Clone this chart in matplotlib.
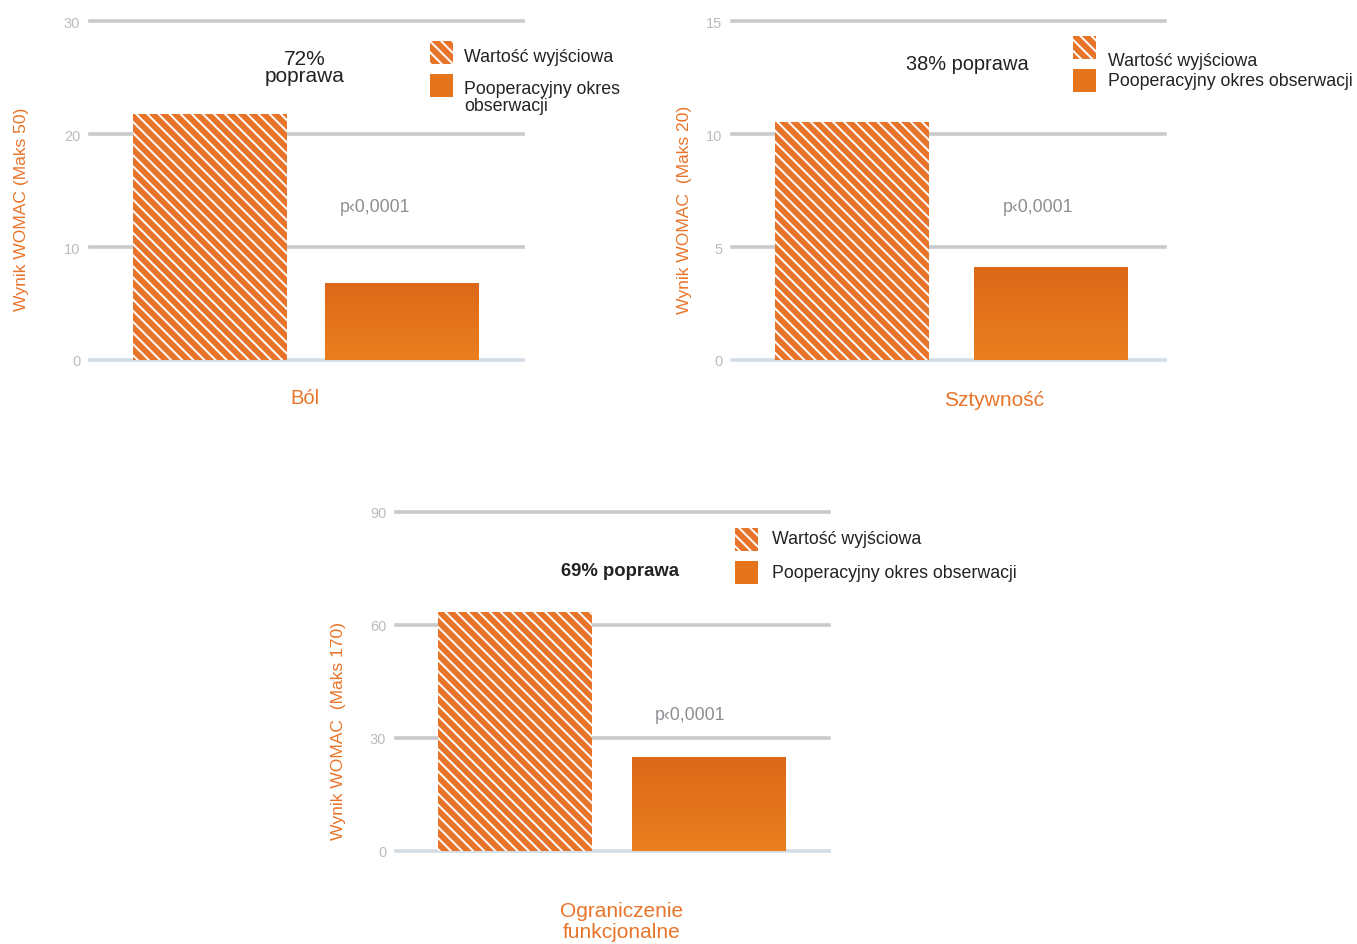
import matplotlib
matplotlib.use("Agg")
import matplotlib.pyplot as plt
import numpy as np
from matplotlib.patches import Rectangle
from matplotlib.colors import LinearSegmentedColormap

plt.rcParams['font.family'] = ['Liberation Sans', 'DejaVu Sans']
plt.rcParams['hatch.linewidth'] = 1.4

# ---------------- data ----------------
categories = ["Ból", "Sztywność", "Ograniczenie\nfunkcjonalne"]
baseline = [21.8, 10.55, 63.5]
followup = [6.8, 4.1, 25.0]
ymax = [30, 15, 90]
yticks = [[0, 10, 20, 30], [0, 5, 10, 15], [0, 30, 60, 90]]
ylabels = ["Wynik WOMAC (Maks 50)", "Wynik WOMAC  (Maks 20)", "Wynik WOMAC  (Maks 170)"]
improvement = ["72%\npoprawa", "38% poprawa", "69% poprawa"]
pvalue = ["p\u20390,0001", "p\u20390,0001", "p\u20390,0001"]
legend_labels = [["Wartość wyjściowa", "Pooperacyjny okres\nobserwacji"],
                 ["Wartość wyjściowa", "Pooperacyjny okres obserwacji"],
                 ["Wartość wyjściowa", "Pooperacyjny okres obserwacji"]]

ORANGE = "#e8742a"
GRID = "#c9cacc"
BASE = "#d3dde6"
TICK = "#b9bcc0"
W, H = 1357, 945

fig = plt.figure(figsize=(W / 100, H / 100), dpi=100)

def fx(x):
    return x / W

def fy(y):
    return 1 - y / H

# layout per panel (pixel coordinates)
panels = [
    dict(left=90, top=22, bottom=361, x0=120, unit=192.5, ylab=(22, 209), cat_xy=(305, 399),
         cat_fs=14.5, imp_xy=(305, 68), imp_bold=False, imp_fs=15, p_xy=(375, 208),
         leg_x=430, leg_y=[42, 75], leg_tx=464, leg_ty=[57, 98]),
    dict(left=732, top=22, bottom=361, x0=120, unit=199.5, ylab=(685, 210), cat_xy=(994, 401),
         cat_fs=15, imp_xy=(967, 65), imp_bold=False, imp_fs=14.4, p_xy=(1038, 208),
         leg_x=1073, leg_y=[37, 70], leg_tx=1108, leg_ty=[61, 82]),
    dict(left=396, top=513, bottom=852, x0=119, unit=193.5, ylab=(338, 731), cat_xy=(622, 922),
         cat_fs=15, imp_xy=(620, 572), imp_bold=True, imp_fs=13.3, p_xy=(690, 716),
         leg_x=735, leg_y=[529, 562], leg_tx=772, leg_ty=[540, 574]),
]

axw = 433
grad_cmap = LinearSegmentedColormap.from_list("g", ["#ea7f1f", "#dc6818"])

for i, p in enumerate(panels):
    unit, x0 = p['unit'], p['x0']
    ax = fig.add_axes([fx(p['left']), fy(p['bottom']), axw / W, (p['bottom'] - p['top']) / H])
    ax.set_xlim(-x0 / unit, -x0 / unit + axw / unit)
    ax.set_ylim(0, ymax[i])
    for s in ax.spines.values():
        s.set_visible(False)
    for t in yticks[i]:
        ax.axhline(t, color=BASE if t == 0 else GRID, lw=2.6, zorder=0, clip_on=False)
    ax.set_yticks(yticks[i])
    ax.set_yticklabels([str(t) for t in yticks[i]], color=TICK, fontsize=10.5)
    ax.tick_params(axis='y', length=0, pad=7)
    ax.set_xticks([])
    ax.patch.set_alpha(0)

    bw = 154 / unit
    ax.bar(0, baseline[i], width=bw, color=ORANGE, edgecolor='white',
           hatch='\\\\\\', linewidth=0, zorder=2)
    b = ax.bar(1, followup[i], width=bw, color="#e3721c", linewidth=0, zorder=2)[0]
    grad = np.linspace(0, 1, 100).reshape(-1, 1)
    im = ax.imshow(grad, extent=[1 - bw / 2, 1 + bw / 2, 0, followup[i]], cmap=grad_cmap,
                   aspect='auto', origin='lower', zorder=3)
    im.set_clip_path(b)

    # y label
    fig.text(fx(p['ylab'][0]), fy(p['ylab'][1]), ylabels[i],
             rotation=90, ha='center', va='center', color=ORANGE, fontsize=12.6)
    # category
    fig.text(fx(p['cat_xy'][0]), fy(p['cat_xy'][1]), categories[i], ha='center',
             va='center', color=ORANGE, fontsize=p['cat_fs'], linespacing=1.1)
    # improvement
    fig.text(fx(p['imp_xy'][0]), fy(p['imp_xy'][1]), improvement[i], ha='center',
             va='center', color='#222222', fontsize=p['imp_fs'],
             fontweight='bold' if p['imp_bold'] else 'normal', linespacing=0.9)
    # p-value
    fig.text(fx(p['p_xy'][0]), fy(p['p_xy'][1]), pvalue[i], ha='center', va='center',
             color='#8c8e92', fontsize=12.8)
    # legend
    sz = 23
    r1 = Rectangle((fx(p['leg_x']), fy(p['leg_y'][0] + sz)), sz / W, sz / H,
                   transform=fig.transFigure, facecolor=ORANGE, edgecolor='white',
                   hatch='\\\\\\', linewidth=0)
    r2 = Rectangle((fx(p['leg_x']), fy(p['leg_y'][1] + sz)), sz / W, sz / H,
                   transform=fig.transFigure, facecolor="#e5751d", linewidth=0)
    fig.patches.extend([r1, r2])
    fs = 12.8
    fig.text(fx(p['leg_tx']), fy(p['leg_ty'][0]), legend_labels[i][0], ha='left',
             va='center', color='#222222', fontsize=fs)
    fig.text(fx(p['leg_tx']), fy(p['leg_ty'][1]), legend_labels[i][1], ha='left',
             va='center', color='#222222', fontsize=fs, linespacing=0.95)

fig.savefig("out.png", dpi=100)
